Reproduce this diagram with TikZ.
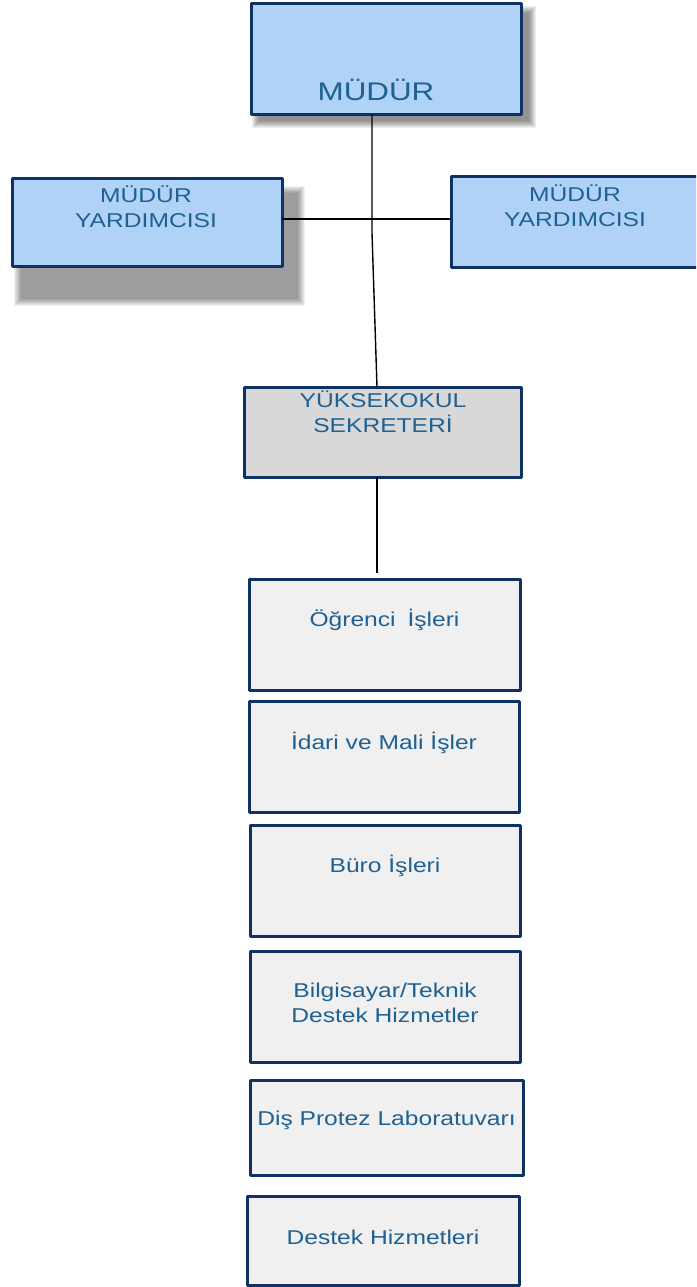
\documentclass[tikz,border=0pt]{standalone}
\usepackage{fontspec}
\setmainfont[FakeStretch=1.23]{Liberation Sans}
\usetikzlibrary{positioning}
\definecolor{kenar}{HTML}{0D3263}
\definecolor{yazirengi}{HTML}{1F6192}
\definecolor{mavi}{HTML}{B0D2F6}
\definecolor{gri}{HTML}{D8D8D8}
\definecolor{acik}{HTML}{F0F0F0}
\tikzset{
	kutu/.style={draw=kenar, line width=3pt, rectangle, inner sep=0pt, outer sep=0pt},
	etiket/.style={text=yazirengi, font=\fontsize{20}{25}\selectfont, align=center, inner sep=0pt},
	cizgi/.style={line width=1.4pt, black}
}
\begin{document}
\begin{tikzpicture}[x=1pt, y=-1pt, line join=round]
	\useasboundingbox (0,0) rectangle (696,1287);
	\clip (0,0) rectangle (696,1287);
	% golgeler
	\foreach \k in {0,...,7}{
		\fill[black, opacity=0.065] (252+\k,6+\k) rectangle (536-\k,128-\k);
		\fill[black, opacity=0.06] (14+\k,186+\k) rectangle (305-\k,306-\k);}
	% kutular
	\node[kutu, fill=mavi, minimum width=270pt, minimum height=111pt] (mudur) at (386,59.5) {};
	\node[etiket, font=\fontsize{25.5}{30}\selectfont] (mudur-y) at (376,90) {MÜDÜR};
	\node[kutu, fill=mavi, minimum width=270pt, minimum height=88pt] (my1) at (147,222) {};
	\node[etiket] (my1-y) at (146,206.5) {MÜDÜR\\YARDIMCISI};
	\node[kutu, fill=mavi, minimum width=250pt, minimum height=91pt] (my2) at (576,221.5) {};
	\node[etiket] (my2-y) at (575,206) {MÜDÜR\\YARDIMCISI};
	\node[kutu, fill=gri, minimum width=277pt, minimum height=90pt] (sekreter) at (382.5,432) {};
	\node[etiket] (sekreter-y) at (383,412) {YÜKSEKOKUL\\SEKRETERİ};
	\foreach \n/\cx/\cy/\w/\h/\ty/\t in {
		ogr/384.5/634.5/271/111/620/{Öğrenci\hspace{5pt} İşleri},
		idari/384/756.5/270/111/743/{İdari ve Mali İşler},
		buro/385/880.5/270/111/866/{Büro İşleri},
		bilg/385/1006.5/270/111/1003/{Bilgisayar/Teknik\\Destek Hizmetler},
		lab/386.5/1127.5/273/95/1120/{Diş Protez Laboratuvarı},
		destek/383/1240.5/272/89/1237/{Destek Hizmetleri}}{
		\node[kutu, fill=acik, minimum width=\w pt, minimum height=\h pt] (\n) at (\cx,\cy) {};
		\node[etiket] (\n-y) at (\cx,\ty) {\t};}
	% baglantilar
	\coordinate (orta) at (372,219);
	\coordinate (kirik) at (372,233);
	\coordinate (uc) at (377,573);
	\draw[cizgi] (mudur.south -| kirik) -- (kirik) -- (sekreter.north -| uc);
	\draw[cizgi] (my1.east |- orta) -- (my2.west |- orta);
	\draw[cizgi] (sekreter.south -| uc) -- (uc);
\end{tikzpicture}
\end{document}
